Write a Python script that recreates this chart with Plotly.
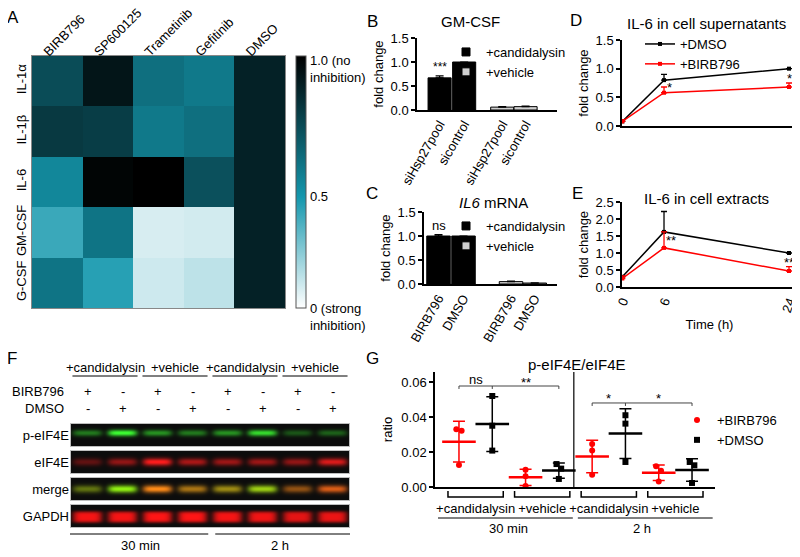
import numpy as np
import plotly.graph_objects as go

# the page body has an 8px margin, so the figure is drawn 8px in from the top-left corner
OFF = 8
W, H = 800 - OFF, 557 - OFF
FONT = "Liberation Sans"

# ---------------- A: heatmap data ----------------
drugs = ["BIRB796", "SP600125", "Trametinib", "Gefitinib", "DMSO"]
cytokines = ["IL-1α", "IL-1β", "IL-6", "GM-CSF", "G-CSF"]
heat = [
    [0.82, 1.05, 0.67, 0.63, 1.00],
    [0.90, 0.88, 0.63, 0.67, 1.00],
    [0.57, 1.12, 1.14, 0.80, 1.00],
    [0.42, 0.65, 0.085, 0.096, 1.00],
    [0.65, 0.46, 0.107, 0.14, 1.00],
]

# ---------------- B: GM-CSF ----------------
gm_labels = ["siHsp27pool", "sicontrol", "siHsp27pool", "sicontrol"]
gm_cand = [0.67, 1.00]
gm_cand_err = [0.04, 0.0]
gm_veh = [0.06, 0.07]
gm_veh_err = [0.01, 0.01]

# ---------------- C: IL6 mRNA ----------------
il6_labels = ["BIRB796", "DMSO", "BIRB796", "DMSO"]
il6_cand = [1.00, 1.00]
il6_cand_err = [0.03, 0.0]
il6_veh = [0.05, 0.02]
il6_veh_err = [0.01, 0.005]

# ---------------- D/E: time courses ----------------
time_h = [0, 6, 24]
sup_dmso = [0.08, 0.80, 1.00]
sup_dmso_err = [0.0, 0.10, 0.0]
sup_birb = [0.08, 0.58, 0.68]
sup_birb_err = [0.03, 0.10, 0.07]
ext_dmso = [0.30, 1.62, 1.00]
ext_dmso_err = [0.02, 0.60, 0.0]
ext_birb = [0.25, 1.15, 0.47]
ext_birb_err = [0.08, 0.47, 0.13]

# ---------------- F: western blot ----------------
treat_groups = ["+candidalysin", "+vehicle", "+candidalysin", "+vehicle"]
time_groups = ["30 min", "2 h"]
lane_birb = ["+", "-", "+", "-", "+", "-", "+", "-"]
lane_dmso = ["-", "+", "-", "+", "-", "+", "-", "+"]
blot_rows = ["p-eIF4E", "eIF4E", "merge", "GAPDH"]
p_eif4e = [0.45, 1.00, 0.55, 0.45, 0.55, 0.85, 0.30, 0.35]
eif4e = [0.35, 0.55, 1.00, 0.65, 0.60, 0.60, 0.55, 0.85]
gapdh = [0.92, 0.92, 0.95, 0.95, 0.92, 0.90, 0.85, 0.88]

# ---------------- G: p-eIF4E/eIF4E ----------------
ratio_points = [
    [0.0330, 0.0322, 0.0125],   # 30 min, candidalysin, BIRB796
    [0.0520, 0.0350, 0.0208],   # 30 min, candidalysin, DMSO
    [0.0098, 0.0062, 0.0005],   # 30 min, vehicle, BIRB796
    [0.0131, 0.0105, 0.0046],   # 30 min, vehicle, DMSO
    [0.0246, 0.0208, 0.0070],   # 2 h, candidalysin, BIRB796
    [0.0410, 0.0362, 0.0143],   # 2 h, candidalysin, DMSO
    [0.0118, 0.0093, 0.0032],   # 2 h, vehicle, BIRB796
    [0.0143, 0.0124, 0.0023],   # 2 h, vehicle, DMSO
]
ratio_treatment = ["BIRB796", "DMSO"] * 4

# ---------------- layout helpers (arguments are window pixels) ----------------
def px(p):
    return (p - OFF) / W

def py(p):
    return 1 - (p - OFF) / H

def xd(a, b):
    return [px(a), px(b)]

def yd(top, bottom):
    return [py(bottom), py(top)]

RED = "#ff0000"
GRAY = "#cfcfcf"
TICKF = dict(size=13, family=FONT, color="black")
AX = dict(showline=True, linecolor="black", linewidth=1.5, showgrid=False, zeroline=False,
          automargin=False, tickfont=TICKF, ticks="outside", ticklen=4, tickwidth=1.5,
          tickcolor="black")

fig = go.Figure()

# ---- A heatmap ----
fig.add_trace(go.Heatmap(
    z=heat, x=drugs, y=cytokines, zmin=0, zmax=1.14,
    colorscale=[[0, "#ffffff"], [0.44, "#1497ad"], [1, "#000000"]],
    colorbar=dict(x=px(296), xanchor="left", y=py(308), yanchor="bottom", len=252 / H,
                  lenmode="fraction", thickness=10, xpad=0, ypad=0, outlinewidth=1,
                  outlinecolor="#555", showticklabels=False, ticks=""),
    xaxis="x", yaxis="y", hoverinfo="skip", showlegend=False))

# ---- B / C bars ----
def bars(pos, vals, errs, color, xa, ya):
    return go.Bar(x=pos, y=vals, width=0.94, showlegend=False,
                  marker=dict(color=color, line=dict(color="black", width=1)),
                  error_y=dict(type="data", array=errs, arrayminus=[0] * len(errs), symmetric=False,
                               color="black", thickness=1.2, width=4),
                  xaxis=xa, yaxis=ya, hoverinfo="skip")

def key(name, color, xa, ya, leg):
    return go.Scatter(x=[None], y=[None], mode="markers", name=name, legend=leg,
                      marker=dict(symbol="square", size=8, color=color,
                                  line=dict(color="black", width=1)),
                      xaxis=xa, yaxis=ya)

B_POS = [0, 1, 2.55, 3.5]
fig.add_trace(bars(B_POS[:2], gm_cand, gm_cand_err, "black", "x2", "y2"))
fig.add_trace(bars(B_POS[2:], gm_veh, gm_veh_err, GRAY, "x2", "y2"))
fig.add_trace(key("+candidalysin", "black", "x2", "y2", "legend"))
fig.add_trace(key("+vehicle", GRAY, "x2", "y2", "legend"))

C_POS = [0, 1, 2.9, 3.85]
fig.add_trace(bars(C_POS[:2], il6_cand, il6_cand_err, "black", "x3", "y3"))
fig.add_trace(bars(C_POS[2:], il6_veh, il6_veh_err, GRAY, "x3", "y3"))
fig.add_trace(key("+candidalysin", "black", "x3", "y3", "legend2"))
fig.add_trace(key("+vehicle", GRAY, "x3", "y3", "legend2"))

# ---- D / E lines ----
def tc(x, y, err, color, name, xa, ya, show, leg=None):
    kw = dict(legend=leg) if leg else {}
    return go.Scatter(x=x, y=y, mode="lines+markers", name=name, showlegend=show,
                      line=dict(color=color, width=1.5),
                      marker=dict(symbol="square", size=4, color=color),
                      error_y=dict(type="data", array=err, arrayminus=[0] * len(err), symmetric=False,
                                   color=color, thickness=1.3, width=3),
                      xaxis=xa, yaxis=ya, hoverinfo="skip", **kw)

fig.add_trace(tc(time_h, sup_dmso, sup_dmso_err, "black", "+DMSO", "x4", "y4", True, "legend3"))
fig.add_trace(tc(time_h, sup_birb, sup_birb_err, RED, "+BIRB796", "x4", "y4", True, "legend3"))
fig.add_trace(tc(time_h, ext_dmso, ext_dmso_err, "black", "+DMSO", "x5", "y5", False))
fig.add_trace(tc(time_h, ext_birb, ext_birb_err, RED, "+BIRB796", "x5", "y5", False))

# ---- F blot images ----
STRIP_H, STRIP_PITCH, LANE_PX = 24, 27, 35
ncol = 8 * LANE_PX
xs = 0.5 + (np.arange(ncol) + 0.5) / LANE_PX
rows = np.arange(STRIP_H) + 0.5

def band(intens, rc, sig, power=2):
    v = np.exp(-0.5 * np.abs((rows - rc) / sig) ** power)
    h = np.zeros(ncol)
    for k, val in enumerate(intens):
        h += val * np.exp(-np.abs((xs - (k + 1)) / 0.42) ** 5)
    return np.outer(v, h)

g_band = band(p_eif4e, 10, 2.3)
r_band = band(eif4e, 12, 2.7)
m_green = band(p_eif4e, 12, 2.7)
gap_band = band(gapdh, 13, 4.8, power=4)

def to_rgb(r, g, b):
    bg = 12
    img = np.stack([bg + 243 * r, bg + 243 * g, bg + 243 * b], axis=-1)
    img = np.clip(img, 0, 255)
    img[0, :, :] = 190
    img[-1, :, :] = 190
    img[:, 0, :] = 190
    img[:, -1, :] = 190
    return img.astype(int).tolist()

strips = [
    to_rgb(0.2 * g_band, 1.0 * g_band, 0.16 * g_band),
    to_rgb(1.0 * r_band, 0.07 * r_band, 0.07 * r_band),
    to_rgb(1.0 * r_band, 0.95 * m_green, 0.05 * r_band),
    to_rgb(1.05 * gap_band, 0.04 * gap_band, 0.04 * gap_band),
]
for i, z in enumerate(strips):
    fig.add_trace(go.Image(z=z, x0=0.5 + 0.5 / LANE_PX, dx=1 / LANE_PX,
                           y0=i * STRIP_PITCH + 0.5, dy=1, colormodel="rgb",
                           xaxis="x6", yaxis="y6", hoverinfo="skip"))

# ---- G dot plot ----
G_X = np.arange(1, 9)
JITTER = [[-0.08, 0.08, 0], [0, 0, 0], [0, 0, 0], [-0.07, 0.07, 0],
          [0, 0, 0], [0, 0, 0], [-0.08, 0.07, 0], [-0.07, 0.07, 0]]
for trt, color, sym in [("BIRB796", RED, "circle"), ("DMSO", "black", "square")]:
    idx = [i for i, t in enumerate(ratio_treatment) if t == trt]
    xs_pts, ys_pts = [], []
    for i in idx:
        for j, v in enumerate(ratio_points[i]):
            xs_pts.append(G_X[i] + JITTER[i][j])
            ys_pts.append(v)
    means = [float(np.mean(ratio_points[i])) for i in idx]
    sds = [float(np.std(ratio_points[i], ddof=1)) for i in idx]
    fig.add_trace(go.Scatter(x=[G_X[i] for i in idx], y=means, mode="markers", showlegend=False,
                             marker=dict(symbol="line-ew", size=24, color=color,
                                         line=dict(width=2.5, color=color)),
                             error_y=dict(type="data", array=sds, color=color, thickness=1.5, width=6),
                             xaxis="x7", yaxis="y7", hoverinfo="skip"))
    fig.add_trace(go.Scatter(x=xs_pts, y=ys_pts, mode="markers", name="+" + trt,
                             marker=dict(symbol=sym, size=6, color=color),
                             xaxis="x7", yaxis="y7", legend="legend4", hoverinfo="skip"))

# ---------------- axes ----------------
def leg(x_px, y_px):
    return dict(x=px(x_px), y=py(y_px), xanchor="left", yanchor="top", bgcolor="rgba(0,0,0,0)",
                font=dict(size=13, family=FONT, color="black"), borderwidth=0, itemwidth=30,
                tracegroupgap=0)

HEATF = dict(size=13, family=FONT, color="black")
layout = dict(
    width=W, height=H, margin=dict(l=0, r=0, t=0, b=0, autoexpand=False),
    paper_bgcolor="white", plot_bgcolor="white", hovermode=False,
    font=dict(family=FONT, color="black", size=12),
    barmode="overlay", showlegend=True,
    legend=leg(446, 37), legend2=leg(446, 211), legend3=leg(640, 29), legend4=leg(677, 405),
    xaxis=dict(domain=xd(32, 285), anchor="y", side="top", tickangle=-45, showline=True, mirror=True,
               linecolor="#888", linewidth=1, ticks="", tickfont=HEATF, showgrid=False, zeroline=False,
               automargin=False, ticklabelshift=-13, ticklabelstandoff=-9),
    yaxis=dict(domain=yd(56, 308), anchor="x", autorange="reversed", tickangle=-90, showline=True,
               mirror=True, linecolor="#888", linewidth=1, ticks="", tickfont=HEATF, showgrid=False,
               zeroline=False, automargin=False),
    xaxis2=dict(AX, domain=xd(417, 557), anchor="y2", range=[-0.92, 4.78], tickvals=B_POS,
                ticktext=gm_labels, tickangle=-60, ticks=""),
    yaxis2=dict(AX, domain=yd(38, 110), anchor="x2", range=[0, 1.5], tickvals=[0, 0.5, 1, 1.5],
                tickformat=".1f", title=dict(text="fold change", font=dict(size=13), standoff=4)),
    xaxis3=dict(AX, domain=xd(424, 557), anchor="y3", range=[-0.58, 4.74], tickvals=C_POS,
                ticktext=il6_labels, tickangle=-60, ticks=""),
    yaxis3=dict(AX, domain=yd(212, 284), anchor="x3", range=[0, 1.5], tickvals=[0, 0.5, 1, 1.5],
                tickformat=".1f", title=dict(text="fold change", font=dict(size=13), standoff=4)),
    xaxis4=dict(AX, domain=xd(622, 797), anchor="y4", range=[-0.05, 25.15], showticklabels=False,
                ticks=""),
    yaxis4=dict(AX, domain=yd(40, 126), anchor="x4", range=[0, 1.5], tickvals=[0, 0.5, 1, 1.5],
                tickformat=".1f", title=dict(text="fold change", font=dict(size=13), standoff=4)),
    xaxis5=dict(AX, domain=xd(622, 797), anchor="y5", range=[-0.05, 25.15], tickvals=time_h,
                tickangle=-70, ticks="", title=dict(text="Time (h)", font=dict(size=13), standoff=6)),
    yaxis5=dict(AX, domain=yd(202, 287), anchor="x5", range=[0, 2.5],
                tickvals=[0, 0.5, 1, 1.5, 2, 2.5], tickformat=".1f",
                title=dict(text="fold change", font=dict(size=13), standoff=4)),
    xaxis6=dict(domain=xd(70, 350), anchor="y6", range=[0.5, 8.5], showline=False, showgrid=False,
                zeroline=False, showticklabels=False, ticks="", automargin=False),
    yaxis6=dict(domain=yd(423, 528), anchor="x6", range=[105, 0], showline=False, showgrid=False,
                zeroline=False, ticks="", scaleanchor=False, automargin=False,
                tickvals=[i * STRIP_PITCH + STRIP_H / 2 for i in range(4)], ticktext=blot_rows,
                tickfont=dict(size=13, family=FONT, color="black")),
    xaxis7=dict(AX, domain=xd(435, 715), anchor="y7", range=[0.28, 8.69], ticks="",
                tickvals=[1.5, 3.5, 5.5, 7.5], ticktext=treat_groups, ticklabelstandoff=9),
    yaxis7=dict(AX, domain=yd(372, 487), anchor="x7", range=[0, 0.0657],
                tickvals=[0, 0.02, 0.04, 0.06], tickformat=".2f",
                title=dict(text="ratio", font=dict(size=13), standoff=6)),
)
fig.update_layout(**layout)

# ---------------- annotations ----------------
ann = []

def A(text, x, y, size=13, xref="paper", yref="paper", xa="center", ya="middle", **kw):
    ann.append(dict(text=text, x=x, y=y, xref=xref, yref=yref, xanchor=xa, yanchor=ya,
                    showarrow=False, font=dict(size=size, family=FONT, color="black"), **kw))

for letter, (lx, ly) in zip("ABCDEFG", [(13, 17), (372, 22), (372, 193), (576, 20), (577, 193),
                                         (12, 358), (372, 358)]):
    A(letter, px(lx), py(ly), size=17)

A("GM-CSF", px(470), py(22), size=15)
A("<i>IL6</i> mRNA", px(493), py(202), size=15)
A("IL-6 in cell supernatants", px(706), py(23), size=15)
A("IL-6 in cell extracts", px(706), py(198), size=15)
A("p-eIF4E/eIF4E", px(577), py(365), size=15)

# colorbar labels
A("1.0 (no<br>inhibition)", px(308), py(51), xa="left", ya="top", align="left")
A("0.5", px(308), py(197), xa="left")
A("0 (strong<br>inhibition)", px(308), py(299), xa="left", ya="top", align="left")

# significance
A("***", B_POS[0], gm_cand[0] + gm_cand_err[0], size=12, xref="x2", yref="y2", ya="bottom")
A("ns", C_POS[0], il6_cand[0] + il6_cand_err[0], xref="x3", yref="y3", ya="bottom")
A("*", 6.8, 0.68, xref="x4", yref="y4")
A("*", 24, 0.82, xref="x4", yref="y4")
A("**", 6.95, 1.38, xref="x5", yref="y5")
A("**", 24, 0.71, xref="x5", yref="y5")
A("ns", 1.5, 0.0612, xref="x7", yref="y7")
A("**", 3.0, 0.0595, xref="x7", yref="y7")
A("*", 5.5, 0.0503, xref="x7", yref="y7")
A("*", 7.0, 0.0503, xref="x7", yref="y7")

# F labels
for k, g in enumerate(treat_groups):
    A(g, 1.5 + 2 * k, py(367), xref="x6")
for i in range(8):
    A(lane_birb[i], i + 1, py(391), xref="x6")
    A(lane_dmso[i], i + 1, py(408), xref="x6")
A("BIRB796", px(66), py(391), xa="right")
A("DMSO", px(66), py(408), xa="right")
for k, t in enumerate(time_groups):
    A(t, 2.5 + 4 * k, py(545), xref="x6")
    A(t, 2.5 + 4 * k, py(528), xref="x7")

fig.update_layout(annotations=ann)

# ---------------- shapes ----------------
shapes = []
LN = dict(color="black", width=1)
for k in range(4):
    shapes.append(dict(type="line", xref="x6", yref="paper", x0=2 * k + 0.57, x1=2 * k + 2.43,
                       y0=py(376), y1=py(376), line=LN))
for k in range(2):
    shapes.append(dict(type="line", xref="x6", yref="paper", x0=4 * k + 0.5 + (0.15 if k else 0),
                       x1=4 * k + 4.45 + (0.05 if k else 0), y0=py(534), y1=py(534), line=LN))
    shapes.append(dict(type="line", xref="x7", yref="paper", x0=4 * k + 0.37 + (0.2 if k else 0),
                       x1=4 * k + 4.42 + (0.2 if k else 0), y0=py(518), y1=py(518), line=LN))
# G group brackets under axis
for k in range(4):
    a, b = 1.5 + 2 * k - 0.83, 1.5 + 2 * k + 0.83
    shapes.append(dict(type="path", xref="x7", yref="paper",
                       path=f"M {a},{py(491)} L {a},{py(497)} L {b},{py(497)} L {b},{py(491)}",
                       line=dict(color="black", width=1.5)))
# significance brackets
for (x1, x2, x3, yb) in [(1, 2, 4, 0.0577), (5, 6, 8, 0.0480)]:
    yl = yb - 0.0017
    shapes.append(dict(type="path", xref="x7", yref="y7",
                       path=f"M {x1},{yl} L {x1},{yb} L {x3},{yb} L {x3},{yl} M {x2},{yb} L {x2},{yl}",
                       line=dict(color="#444", width=1)))
# divider between time points
shapes.append(dict(type="line", xref="x7", yref="y7 domain", x0=4.45, x1=4.45, y0=0, y1=1,
                   line=dict(color="black", width=1.2)))
fig.update_layout(shapes=shapes)

fig.write_html("out.html")
